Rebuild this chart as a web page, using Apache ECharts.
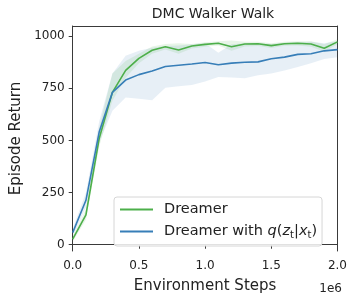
<!DOCTYPE html>
<html>
<head>
<meta charset="utf-8">
<script src="https://cdn.jsdelivr.net/npm/echarts@6/dist/echarts.min.js"></script>
<style>
  html, body { margin: 0; padding: 0; background: #fff; }
  #chart { width: 350px; height: 299px; }
</style>
</head>
<body>
<div id="chart"></div>
<script>
  // 环境步数 (0 ~ 2e6, 每 0.1e6 一个点)
  const steps = [0, 100000, 200000, 300000, 400000, 500000, 600000, 700000, 800000, 900000, 1000000,
    1100000, 1200000, 1300000, 1400000, 1500000, 1600000, 1700000, 1800000, 1900000, 2000000];
  const dreamer = [27, 143, 509, 730, 835, 893, 932, 949, 933, 952, 960, 965, 949, 962, 963, 954, 963, 965, 962, 941, 972];
  const dreamerLow = [15, 120, 470, 690, 800, 870, 915, 935, 915, 940, 948, 955, 930, 950, 952, 943, 953, 955, 948, 925, 960];
  const dreamerHigh = [40, 170, 560, 820, 880, 915, 950, 962, 965, 962, 970, 975, 978, 972, 972, 965, 972, 975, 975, 960, 985];
  const withQ = [58, 213, 540, 730, 789, 815, 832, 854, 860, 866, 873, 862, 870, 874, 876, 891, 899, 912, 915, 929, 935];
  const withQLow = [40, 180, 490, 642, 705, 700, 692, 752, 759, 765, 782, 804, 801, 798, 812, 820, 835, 851, 870, 890, 898];
  const withQHigh = [75, 250, 590, 820, 905, 929, 944, 952, 955, 960, 965, 920, 960, 965, 965, 962, 968, 970, 972, 965, 975];
  const yTicks = [0, 250, 500, 750, 1000];

  const green = '#4daf4a', blue = '#377eb8';
  const font = 'DejaVu Sans';
  const ink = '#222', spine = '#3a3a3a';

  function diff(hi, lo) {
    return hi.map(function (v, i) { return v - lo[i]; });
  }
  // 置信区间：下界透明 + 差值堆叠填充
  function band(stack, lo, hi, color) {
    return [
      {type: 'line', stack: stack, data: lo, symbol: 'none', silent: true,
        lineStyle: {opacity: 0}},
      {type: 'line', stack: stack, data: diff(hi, lo), symbol: 'none', silent: true,
        lineStyle: {opacity: 0}, areaStyle: {color: color, opacity: 1}}
    ];
  }

  const myChart = echarts.init(document.getElementById('chart'));
  const option = {
    animation: false,
    textStyle: {fontFamily: font},
    title: {
      text: 'DMC Walker Walk',
      left: 208, top: 2, textAlign: 'center',
      textStyle: {fontFamily: font, fontSize: 14, fontWeight: 'normal', color: ink}
    },
    grid: {left: 72.7, right: 8.3, top: 26, bottom: 42},
    legend: {
      data: ['Dreamer', 'Dreamer with q'],
      orient: 'vertical',
      left: 114, top: 197,
      padding: [4, 5, 6, 6],
      itemGap: 5,
      icon: 'rect',
      itemWidth: 33, itemHeight: 2,
      borderColor: '#d6d6d6', borderWidth: 1, borderRadius: 3,
      backgroundColor: 'rgba(255,255,255,0.85)',
      textStyle: {
        fontFamily: font, fontSize: 14.5, color: ink, lineHeight: 17, padding: [0, 0, 0, 6],
        rich: {
          i: {fontFamily: font, fontStyle: 'italic', fontSize: 14.5, lineHeight: 17, color: ink},
          s: {fontFamily: font, fontSize: 10, lineHeight: 17, color: ink, verticalAlign: 'bottom', padding: [7, 0, 0, 0]}
        }
      },
      formatter: function (name) {
        if (name === 'Dreamer') return 'Dreamer';
        return 'Dreamer with {i|q}({i|z}{s|t}|{i|x}{s|t})';
      }
    },
    xAxis: [{
      type: 'category', data: steps, boundaryGap: false,
      name: 'Environment Steps', nameLocation: 'middle', nameGap: 28,
      nameTextStyle: {fontFamily: font, fontSize: 15, color: ink},
      axisLine: {show: true, lineStyle: {color: spine}},
      axisTick: {show: true, interval: 4, length: 4, lineStyle: {color: spine}},
      axisLabel: {
        interval: 4, fontFamily: font, fontSize: 12, color: ink, margin: 9,
        formatter: function (v) { return (v / 1e6).toFixed(1); }
      },
      splitLine: {show: false}
    }, {
      type: 'category', data: steps, boundaryGap: false, position: 'top',
      axisLine: {show: true, onZero: false, lineStyle: {color: spine}},
      axisTick: {show: false}, axisLabel: {show: false}, splitLine: {show: false}
    }],
    yAxis: [{
      type: 'value', min: -30, max: 1048,
      name: 'Episode Return', nameLocation: 'middle', nameGap: 42,
      nameTextStyle: {fontFamily: font, fontSize: 15, color: ink},
      axisLine: {show: true, lineStyle: {color: spine}},
      axisTick: {show: true, length: 4, customValues: yTicks, lineStyle: {color: spine}},
      axisLabel: {
        fontFamily: font, fontSize: 12, color: ink, margin: 8, customValues: yTicks,
        formatter: function (v) { return String(v); }
      },
      splitLine: {show: false}
    }, {
      type: 'value', position: 'right', min: -30, max: 1048,
      axisLine: {show: true, onZero: false, lineStyle: {color: spine}},
      axisTick: {show: false}, axisLabel: {show: false}, splitLine: {show: false}
    }],
    graphic: [{
      type: 'text', right: 8, top: 283,
      style: {text: '1e6', fontFamily: font, fontSize: 12, fill: ink}
    }],
    series: [].concat(
      band('bandQ', withQLow, withQHigh, 'rgba(55,126,184,0.12)'),
      band('bandD', dreamerLow, dreamerHigh, 'rgba(77,175,74,0.13)'),
      [
        {name: 'Dreamer', type: 'line', data: dreamer, symbol: 'none',
          lineStyle: {color: green, width: 1.6}, itemStyle: {color: green}, z: 5},
        {name: 'Dreamer with q', type: 'line', data: withQ, symbol: 'none',
          lineStyle: {color: blue, width: 1.6}, itemStyle: {color: blue}, z: 6}
      ]
    )
  };
  myChart.setOption(option);
</script>
</body>
</html>
